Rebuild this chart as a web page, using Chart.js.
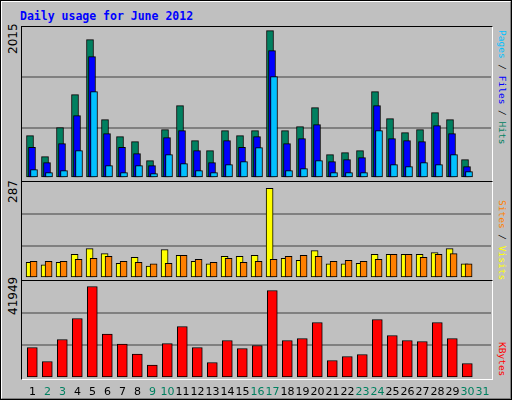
<!DOCTYPE html>
<html><head><meta charset="utf-8">
<script src="https://cdn.jsdelivr.net/npm/chart.js@4/dist/chart.umd.min.js"></script>
<style>
body{margin:0;background:#fff}
#wrap{position:absolute;left:0;top:0;width:508px;height:396px;background:#c0c0c0;border:2px solid;border-color:#fff #808080 #808080 #fff;outline:1px solid #000;outline-offset:-1px}
.frame{position:absolute;border:1px solid #000;border-right-color:#fff;border-bottom-color:#fff}
.box{position:absolute}
.vl{position:absolute;transform-origin:0 0;transform:rotate(-90deg);font:12px "DejaVu Sans";white-space:nowrap}
.vr{position:absolute;transform-origin:0 0;transform:rotate(90deg);font:9.5px "DejaVu Sans Mono";white-space:nowrap}
#title{position:absolute;left:18px;top:7px;font:bold 11.5px "DejaVu Sans Mono";color:#0000ff}
</style></head><body>
<div id="wrap">
<div id="title">Daily usage for June 2012</div>
<div class="frame" style="left:19px;top:24px;width:470px;height:154px"></div>
<div class="frame" style="left:19px;top:179px;width:470px;height:98px"></div>
<div class="frame" style="left:19px;top:278px;width:470px;height:98px"></div>
<div class="box" style="left:20px;top:25px;width:469px;height:151px"><canvas id="c1"></canvas></div>
<div class="box" style="left:20px;top:180px;width:469px;height:96px"><canvas id="c2"></canvas></div>
<div class="box" style="left:20px;top:278px;width:469px;height:116px"><canvas id="c3"></canvas></div>
<div class="vl" style="left:4px;top:52px">2015</div>
<div class="vl" style="left:4px;top:201px">287</div>
<div class="vl" style="left:4px;top:313px">41949</div>
<div class="vr" style="left:506px;top:28px"><span style="color:#00c0ff">Pages</span> / <span style="color:#0000ff">Files</span> / <span style="color:#008060">Hits</span></div>
<div class="vr" style="left:506px;top:198px"><span style="color:#ff8000">Sites</span> / <span style="color:#ffff00">Visits</span></div>
<div class="vr" style="left:506px;top:340px"><span style="color:#ff0000">KBytes</span></div>
</div>
<script>
const days = Array.from({length: 31}, (_, i) => i + 1);
const weekend = [2, 3, 9, 10, 16, 17, 23, 24, 30, 31];
const hits = [566,285,672,1113,1846,779,552,486,232,646,966,499,365,632,566,632,1966,632,686,939,312,339,365,1152,792,606,646,872,779,245,0];
const files = [410,205,459,832,1619,592,410,325,165,539,632,365,205,499,410,552,1700,459,526,712,219,245,272,966,526,499,486,699,592,152,0];
const pages = [112,72,99,365,1152,165,72,165,59,312,192,99,72,179,219,406,1353,99,125,232,72,72,72,632,179,152,205,179,312,85,0];
const visits = [47,39,47,71,88,73,44,62,36,85,68,50,42,65,65,68,268,59,53,82,42,42,44,71,71,71,71,76,88,42,0];
const sites = [50,50,50,56,59,65,50,47,42,44,68,56,47,59,47,50,56,65,68,65,50,53,50,56,71,71,62,71,73,42,0];
const kbytes = [13056,7062,16481,25472,39177,18765,14484,10203,5494,14769,22048,13056,6634,16052,12628,13912,37465,16052,16909,23761,7491,9203,10060,25044,18195,16052,15624,23761,16909,6206,0];
const maxTop = 2015, maxMid = 287, maxBot = 41949;

const xScale = {type: 'linear', min: 0.333, max: 31.6, offset: false, display: false};
function yScale(max) {
  return {min: 0, max: max, display: true, border: {display: false},
    ticks: {display: false, stepSize: max / 3},
    grid: {drawTicks: false, color: c => (c.index === 1 || c.index === 2) ? '#808080' : 'rgba(0,0,0,0)', lineWidth: 2}};
}
function ds(vals, off, color, w) {
  return {data: days.map((d, i) => ({x: d + off, y: vals[i]})), backgroundColor: color,
    borderColor: '#000', borderWidth: 1, borderSkipped: false, barThickness: w, grouped: false};
}
function opts(max, pad) {
  return {responsive: true, maintainAspectRatio: false, animation: false,
    layout: {padding: {left: 0, right: 0, top: 0, bottom: pad || 0}},
    plugins: {legend: {display: false}, tooltip: {enabled: false}},
    scales: {x: xScale, y: yScale(max)}};
}

// index 0 drawn on top
new Chart(document.getElementById('c1'), {type: 'bar',
  data: {datasets: [ds(pages, 2/15, '#00c0ff', 7), ds(files, 0, '#0000ff', 7), ds(hits, -2/15, '#008060', 7)]},
  options: opts(maxTop)});

new Chart(document.getElementById('c2'), {type: 'bar',
  data: {datasets: [ds(sites, 1.6/15, '#ff8000', 7), ds(visits, -2.4/15, '#ffff00', 7)]},
  options: opts(maxMid)});

const dayLabels = {id: 'dayLabels', afterDraw(chart) {
  const ctx = chart.ctx, xs = chart.scales.x;
  ctx.save();
  ctx.font = '11px "DejaVu Sans"';
  ctx.textAlign = 'center';
  ctx.textBaseline = 'alphabetic';
  days.forEach(d => {
    ctx.fillStyle = weekend.includes(d) ? '#008060' : '#000';
    ctx.fillText(String(d), xs.getPixelForValue(d) + 0.5, chart.chartArea.bottom + 17);
  });
  ctx.restore();
}};
new Chart(document.getElementById('c3'), {type: 'bar',
  data: {datasets: [ds(kbytes, 0.02, '#ff0000', 10)]},
  options: opts(maxBot, 18), plugins: [dayLabels]});
</script>
</body></html>
